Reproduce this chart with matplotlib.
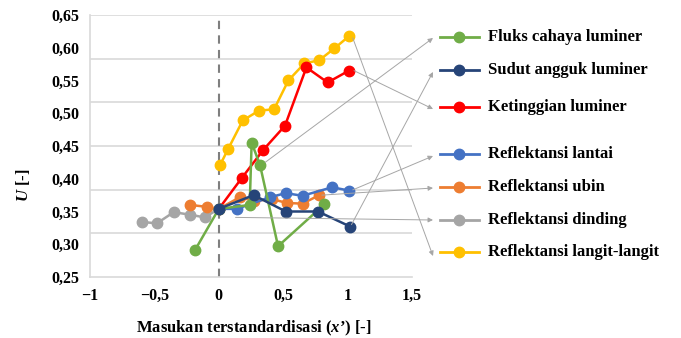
import numpy as np
import matplotlib
matplotlib.use("Agg")
import matplotlib.pyplot as plt

plt.rcParams['font.family'] = ['Liberation Serif', 'DejaVu Serif']
plt.rcParams['font.weight'] = 'bold'
plt.rcParams['mathtext.fontset'] = 'custom'
plt.rcParams['mathtext.rm'] = 'Liberation Serif:bold'
plt.rcParams['mathtext.it'] = 'Liberation Serif:italic:bold'

# data (x' standardised input, U uniformity)
fluks_x = [-0.185, 0.0, 0.24, 0.255, 0.32, 0.46, 0.82]
fluks_y = [0.291, 0.354, 0.360, 0.455, 0.421, 0.297, 0.361]

sudut_x = [0.0, 0.27, 0.52, 0.77, 1.02]
sudut_y = [0.354, 0.375, 0.350, 0.350, 0.327]

tinggi_x = [0.0, 0.178, 0.345, 0.514, 0.68, 0.845, 1.01]
tinggi_y = [0.354, 0.401, 0.444, 0.481, 0.570, 0.547, 0.565]

lantai_x = [0.0, 0.14, 0.40, 0.52, 0.65, 0.88, 1.01]
lantai_y = [0.354, 0.354, 0.372, 0.378, 0.374, 0.387, 0.382]

ubin_x = [-0.22, -0.09, 0.0, 0.165, 0.27, 0.41, 0.53, 0.65, 0.78]
ubin_y = [0.360, 0.357, 0.354, 0.372, 0.366, 0.369, 0.363, 0.362, 0.375]

dinding_x = [-0.60, -0.48, -0.35, -0.22, -0.11, 0.0]
dinding_y = [0.334, 0.332, 0.349, 0.345, 0.341, 0.354]

langit_x = [0.01, 0.074, 0.186, 0.312, 0.429, 0.54, 0.664, 0.78, 0.897, 1.013]
langit_y = [0.421, 0.446, 0.489, 0.504, 0.506, 0.550, 0.576, 0.581, 0.599, 0.618]

names = ["Fluks cahaya luminer", "Sudut angguk luminer", "Ketinggian luminer",
         "Reflektansi lantai", "Reflektansi ubin", "Reflektansi dinding",
         "Reflektansi langit-langit"]
colors = ["#70AD47", "#264478", "#FF0000", "#4472C4", "#ED7D31", "#A5A5A5", "#FFC000"]
series = [(fluks_x, fluks_y), (sudut_x, sudut_y), (tinggi_x, tinggi_y),
          (lantai_x, lantai_y), (ubin_x, ubin_y), (dinding_x, dinding_y),
          (langit_x, langit_y)]

yticks = [0.25, 0.30, 0.35, 0.40, 0.45, 0.50, 0.55, 0.60, 0.65]
ytick_labels = ["0,25", "0,30", "0,35", "0,40", "0,45", "0,50", "0,55", "0,60", "0,65"]
xticks = [-1, -0.5, 0, 0.5, 1, 1.5]
xtick_labels = ["\u22121", "\u22120,5", "0", "0,5", "1", "1,5"]

W, H = 681, 338
fig = plt.figure(figsize=(W / 100, H / 100), dpi=100)
ax = fig.add_axes([90 / W, 1 - 277 / H, 322 / W, 262 / H])
ax.set_xlim(-1, 1.5)
ax.set_ylim(0.25, 0.65)

for g in np.linspace(0.25, 0.65, 7)[1:]:
    ax.axhline(g, color="#d9d9d9", lw=1.2, zorder=0)
ax.axvline(0, color="#7f7f7f", lw=1.5, ls=(0, (4, 3)), zorder=1)

# draw order like the original (yellow/red under the cluster)
order = [6, 2, 5, 4, 3, 0, 1]
for i in order:
    xs, ys = series[i]
    ax.plot(xs, ys, color=colors[i], lw=1.8, marker="o", ms=7.5, zorder=3)

for s in ["top", "right"]:
    ax.spines[s].set_visible(False)
for s in ["left", "bottom"]:
    ax.spines[s].set_color("#d9d9d9")
    ax.spines[s].set_linewidth(1.2)
ax.set_yticks(yticks)
ax.set_yticklabels(ytick_labels)
ax.set_xticks(xticks)
ax.set_xticklabels(xtick_labels)
ax.tick_params(length=0, labelsize=11.5, pad=8)
ax.tick_params(axis="x", pad=8)
ax.set_xlabel("Masukan terstandardisasi ($\\mathit{x}$\u2019) [-]", fontsize=12,
              fontweight="bold")
ax.xaxis.set_label_coords(0.51, -0.16)
ax.set_ylabel("$\\mathit{U}$ [-]", fontsize=12, fontweight="bold")
ax.yaxis.set_label_coords(-0.18, 0.35)

# legend and pointer arrows on a pixel overlay
ov = fig.add_axes([0, 0, 1, 1], facecolor="none")
ov.set_xlim(0, W)
ov.set_ylim(H, 0)
ov.axis("off")
leg_y = [37, 70, 107, 154, 187, 220, 252]
for i, name in enumerate(names):
    ov.plot([440, 479], [leg_y[i], leg_y[i]], color=colors[i], lw=2)
    ov.plot([459], [leg_y[i]], marker="o", ms=7.5, color=colors[i])
    ov.text(488, leg_y[i], name, fontsize=12, fontweight="bold", va="center")

arrow_from = [(0.36, 0.425), (1.03, 0.33), (1.05, 0.565), (1.04, 0.383),
              (0.80, 0.375), (0.13, 0.341), (1.04, 0.615)]
arrow_to = [(433, 38), (433, 72), (433, 109), (433, 156), (433, 188), (433, 220), (433, 256)]
for (sx, sy), (ex, ey) in zip(arrow_from, arrow_to):
    ov.annotate("", xy=(ex, ey), xycoords="data", xytext=(sx, sy), textcoords=ax.transData,
                arrowprops=dict(arrowstyle="-|>", color="#a6a6a6", lw=0.7,
                                mutation_scale=7, shrinkA=0, shrinkB=0))

fig.savefig("out.png", dpi=100)
